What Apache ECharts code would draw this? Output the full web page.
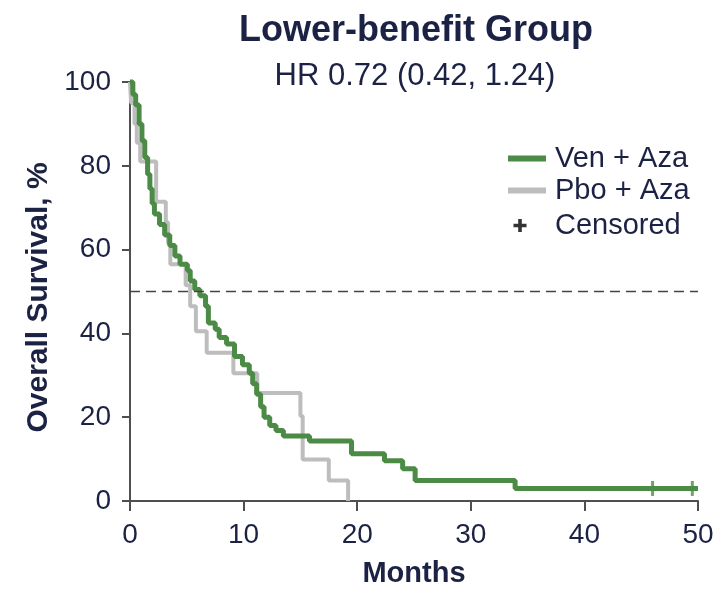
<!DOCTYPE html>
<html>
<head>
<meta charset="utf-8">
<script src="https://cdn.jsdelivr.net/npm/echarts@6/dist/echarts.min.js"></script>
<style>
  html, body { margin: 0; padding: 0; background: #ffffff; }
  #chart { width: 719px; height: 593px; }
</style>
</head>
<body>
<div id="chart"></div>
<script>
// Kaplan–Meier overall survival, lower-benefit group
const titleText = 'Lower-benefit Group';
const subtitleText = 'HR 0.72 (0.42, 1.24)';
const xTicks = [0, 10, 20, 30, 40, 50];
const yTicks = [0, 20, 40, 60, 80, 100];

// Ven + Aza: event times (months) and survival (%)
const venTimes = [0, 0.25, 0.5, 0.8, 1.05, 1.3, 1.55, 1.75, 1.95, 2.15,
  2.6, 3.05, 3.5, 3.95, 4.4, 5.05, 5.3, 5.7, 6.15, 6.65,
  6.9, 7.5, 7.85, 8.5, 9.2, 9.9, 10.5, 10.8, 11.15, 11.5,
  11.8, 12.3, 12.85, 13.5, 15.8, 19.5, 22.4, 24.0, 25.1, 33.9, 50];
const venSurv = [100, 97, 94.5, 90, 86, 82, 78, 74.5, 71, 68.5,
  66, 63.5, 61, 58.5, 56.5, 55, 52.5, 50.5, 49, 46.5,
  42.5, 41, 39, 37.5, 34.5, 32.5, 30.5, 28, 25.5, 22.5,
  20, 18, 16.8, 15.5, 14.3, 11.3, 9.6, 7.7, 4.9, 3.0, 3.0];

// Pbo + Aza
const pboTimes = [0, 0.1, 0.4, 0.6, 0.9, 2.3, 3.15, 3.35, 3.55, 4.9,
  5.3, 5.8, 6.75, 9.1, 11.2, 15.0, 15.2, 17.5, 19.2];
const pboSurv = [100, 95, 90, 85.5, 81, 71.4, 66.5, 61.5, 56.5, 51.5,
  46.5, 40.5, 35.4, 30.5, 25.8, 20.3, 9.9, 4.9, 0];

// Censored observations (Ven + Aza)
const censorTimes = [46.0, 49.5];
const censorSurv = [3.0, 3.0];

const medianLine = 50;

const navy = '#1c2244';
const green = '#4c8b45';
const gray = '#bdbdbd';
const axisGray = '#4f4f4f';
const font = '"Liberation Sans", Arial, Helvetica, sans-serif';

// Legend icons share a 38x14 frame (tiny corner specks pin the bounds)
const frame = 'M0,0h0.01v0.01h-0.01Z M37.99,13.99h0.01v0.01h-0.01Z ';
const lineIcon = 'path://' + frame + 'M0,4H38V10H0Z';
const plusIcon = 'path://' + frame + 'M10.2,0.5H13.8V5.2H18.5V8.8H13.8V13.5H10.2V8.8H5.5V5.2H10.2Z';

const legendText = { fontSize: 29, color: navy, fontFamily: font, padding: [0, 0, 0, 4] };

const zip = (a, b) => a.map((v, i) => [v, b[i]]);

const chart = echarts.init(document.getElementById('chart'), null, { renderer: 'canvas' });

chart.setOption({
  backgroundColor: '#ffffff',
  animation: false,
  textStyle: { fontFamily: font },
  title: [
    {
      text: titleText,
      left: 411, top: 8, textAlign: 'center',
      textStyle: { fontSize: 36, fontWeight: 'bold', color: navy, fontFamily: font }
    },
    {
      text: subtitleText,
      left: 410, top: 56, textAlign: 'center',
      textStyle: { fontSize: 31, fontWeight: 'normal', color: navy, fontFamily: font }
    }
  ],
  legend: [
    {
      orient: 'vertical',
      left: 503, top: 139,
      itemWidth: 38, itemHeight: 14, itemGap: 3,
      data: [
        { name: 'Ven + Aza', icon: lineIcon },
        { name: 'Pbo + Aza', icon: lineIcon }
      ],
      textStyle: legendText,
      selectedMode: false
    },
    {
      orient: 'vertical',
      left: 503, top: 206,
      itemWidth: 38, itemHeight: 14,
      data: [
        { name: 'Censored', icon: plusIcon, itemStyle: { color: '#000000' } }
      ],
      textStyle: legendText,
      selectedMode: false
    }
  ],
  grid: { left: 130, right: 21, top: 82, bottom: 85, containLabel: false },
  xAxis: {
    type: 'value',
    min: xTicks[0], max: xTicks[xTicks.length - 1], interval: 10,
    name: 'Months',
    nameLocation: 'middle', nameGap: 58,
    nameTextStyle: { fontSize: 29, fontWeight: 'bold', color: navy, fontFamily: font },
    axisLine: { show: true, lineStyle: { color: axisGray, width: 2 } },
    axisTick: { show: true, inside: false, length: 10, lineStyle: { color: axisGray, width: 2 } },
    axisLabel: { fontSize: 28, color: navy, margin: 20, fontFamily: font },
    splitLine: { show: false }
  },
  yAxis: {
    type: 'value',
    min: yTicks[0], max: yTicks[yTicks.length - 1], interval: 20,
    name: 'Overall Survival, %',
    nameLocation: 'middle', nameGap: 69, nameRotate: 90,
    nameTextStyle: { fontSize: 30, fontWeight: 'bold', color: navy, fontFamily: font, padding: [0, 12, 0, 0] },
    axisLine: { show: true, lineStyle: { color: axisGray, width: 2 } },
    axisTick: { show: true, inside: false, length: 8, lineStyle: { color: axisGray, width: 2 } },
    axisLabel: { fontSize: 28, color: navy, margin: 19, fontFamily: font },
    splitLine: { show: false }
  },
  series: [
    {
      name: 'Pbo + Aza',
      type: 'line',
      step: 'end',
      data: zip(pboTimes, pboSurv),
      showSymbol: false,
      clip: false,
      itemStyle: { color: gray },
      lineStyle: { color: gray, width: 4 },
      markLine: {
        silent: true,
        symbol: ['none', 'none'],
        label: { show: false },
        lineStyle: { color: '#444444', width: 1.4, type: [10, 6] },
        data: [{ yAxis: medianLine }]
      },
      z: 2
    },
    {
      name: 'Ven + Aza',
      type: 'line',
      step: 'end',
      data: zip(venTimes, venSurv),
      showSymbol: false,
      clip: false,
      itemStyle: { color: green },
      lineStyle: { color: green, width: 5 },
      z: 3
    },
    {
      name: 'Censored',
      type: 'scatter',
      data: zip(censorTimes, censorSurv),
      symbol: 'rect',
      symbolSize: [3, 15],
      itemStyle: { color: green },
      clip: false,
      z: 4
    }
  ]
});
</script>
</body>
</html>
